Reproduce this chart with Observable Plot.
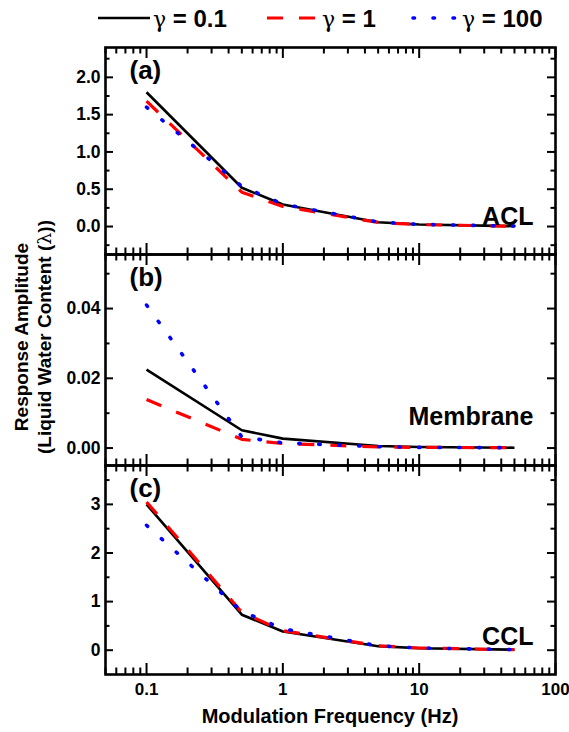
<!DOCTYPE html>
<html><head><meta charset="utf-8">
<script src="https://cdn.jsdelivr.net/npm/d3@7"></script>
<script src="https://cdn.jsdelivr.net/npm/@observablehq/plot@0.6"></script>
<style>
body{margin:0;background:#fff;font-family:"Liberation Sans",Arial,sans-serif;font-weight:bold;color:#000;}
#wrap{position:relative;width:569px;height:732px;overflow:hidden;}
#wrap svg.plot-panel{position:absolute;left:0;}
.leg{position:absolute;font-size:24px;line-height:24px;white-space:nowrap;}
.gr{font-family:"DejaVu Serif","Liberation Serif",serif;font-weight:normal;font-size:22px;}
.sw{position:absolute;}
#ytitle{position:absolute;width:340px;height:44px;left:-137px;top:315px;transform:rotate(-90deg);transform-origin:50% 50%;text-align:center;font-size:19px;line-height:22px;}
#xtitle{position:absolute;left:105px;width:450px;top:704px;text-align:center;font-size:20px;line-height:24px;}
</style></head><body><div id="wrap"></div>
<script>
// ---- data ----
const freq = [0.1, 0.5, 1, 5, 10, 50];
const gammaValues = ["0.1", "1", "100"];
const acl_g01  = [1.80, 0.52, 0.295, 0.058, 0.027, 0.005];
const acl_g1   = [1.68, 0.46, 0.27, 0.055, 0.025, 0.005];
const acl_g100 = [1.60, 0.54, 0.30, 0.060, 0.028, 0.006];
const mem_g01  = [0.0225, 0.0051, 0.0027, 0.0006, 0.0003, 0.0001];
const mem_g1   = [0.0139, 0.0025, 0.0013, 0.0003, 0.0002, 0.0001];
const mem_g100 = [0.0410, 0.0032, 0.0015, 0.0004, 0.0002, 0.0001];
const ccl_g01  = [3.00, 0.73, 0.385, 0.083, 0.040, 0.010];
const ccl_g1   = [3.05, 0.78, 0.40, 0.090, 0.045, 0.010];
const ccl_g100 = [2.57, 0.80, 0.44, 0.090, 0.045, 0.012];
// ticks
const xMajor = [0.1, 1, 10, 100];
const xMinor = [0.05,0.06,0.07,0.08,0.09, 0.2,0.3,0.4,0.5,0.6,0.7,0.8,0.9, 2,3,4,5,6,7,8,9, 20,30,40,50,60,70,80,90];
const aMajor = [0, 0.5, 1.0, 1.5, 2.0];
const aMinor = [-0.25, 0.25, 0.75, 1.25, 1.75, 2.25];
const bMajor = [0, 0.02, 0.04];
const bMinor = [0.01, 0.03, 0.05];
const cMajor = [0, 1, 2, 3];
const cMinor = [0.5, 1.5, 2.5, 3.5];
const panelNames = ["ACL", "Membrane", "CCL"];
const panelLetters = ["(a)", "(b)", "(c)"];

// ---- styles ----
const styles = [
  {stroke: "#000000", strokeWidth: 2.6, strokeDasharray: null, strokeLinecap: "butt"},
  {stroke: "#ff0000", strokeWidth: 3.2, strokeDasharray: "16,16", strokeLinecap: "butt"},
  {stroke: "#0000ff", strokeWidth: 3.6, strokeDasharray: "1.5,18.5", strokeLinecap: "round"}
];

const W = 569, mL = 105, mR = 14, innerW = W - mL - mR;
const wrap = document.getElementById("wrap");

function panel({top, innerH, mB, domain, major, minor, fmt, series, letter, name, nameDy, showX}) {
  const mT = 2;
  const H = mT + innerH + mB;
  const rows = [];
  series.forEach((vals, si) => vals.forEach((v, i) => rows.push({f: freq[i], v, s: si})));
  const majLen = 8, minLen = 4.5;
  const marks = [
    Plot.tickY(major, {y: d => d, insetRight: innerW - majLen, strokeWidth: 2}),
    Plot.tickY(major, {y: d => d, insetLeft: innerW - majLen, strokeWidth: 2}),
    Plot.tickY(minor, {y: d => d, insetRight: innerW - minLen, strokeWidth: 2}),
    Plot.tickY(minor, {y: d => d, insetLeft: innerW - minLen, strokeWidth: 2}),
    Plot.tickX(xMajor, {x: d => d, insetTop: innerH - majLen - 3, strokeWidth: 2}),
    Plot.tickX(xMajor, {x: d => d, insetBottom: innerH - majLen - 3, strokeWidth: 2}),
    Plot.tickX(xMinor, {x: d => d, insetTop: innerH - minLen - 2, strokeWidth: 2}),
    Plot.tickX(xMinor, {x: d => d, insetBottom: innerH - minLen - 2, strokeWidth: 2}),
    ...styles.map((st, si) => Plot.line(rows.filter(r => r.s === si), {x: "f", y: "v", ...st})),
    Plot.frame({strokeWidth: 2.6}),
    Plot.axisY(major, {anchor: "left", tickSize: 0, tickPadding: 5, tickFormat: fmt, fontSize: 17.5, fontWeight: "bold", label: null}),
    Plot.text([letter], {frameAnchor: "top-left", dx: 24, dy: 13, fontSize: 26, fontWeight: "bold", textAnchor: "start", lineAnchor: "top"}),
    Plot.text([name], {frameAnchor: "bottom-right", dx: -22, dy: nameDy, fontSize: 25, fontWeight: "bold", textAnchor: "end", lineAnchor: "bottom"})
  ];
  if (showX) marks.push(Plot.axisX(xMajor, {anchor: "bottom", tickSize: 0, tickPadding: 8, tickFormat: d => String(d), fontSize: 17, fontWeight: "bold", label: null}));
  const svg = Plot.plot({
    width: W, height: H, marginLeft: mL, marginRight: mR, marginTop: mT, marginBottom: mB,
    x: {type: "log", domain: [0.05, 100], label: null, axis: showX ? undefined : null},
    y: {domain, label: null},
    style: {background: "transparent", fontFamily: "Liberation Sans, Arial, sans-serif", fontWeight: "bold", fontSize: "16px", overflow: "visible"},
    marks
  });
  svg.classList.add("plot-panel");
  svg.style.top = (top - mT) + "px";
  wrap.appendChild(svg);
}

panel({top: 47, innerH: 207, mB: 2, domain: [-0.375, 2.4], major: aMajor, minor: aMinor, fmt: d3.format(".1f"),
  series: [acl_g01, acl_g1, acl_g100], letter: panelLetters[0], name: panelNames[0], nameDy: -30, showX: false});
panel({top: 254, innerH: 211, mB: 2, domain: [-0.005, 0.0555], major: bMajor, minor: bMinor, fmt: d3.format(".2f"),
  series: [mem_g01, mem_g1, mem_g100], letter: panelLetters[1], name: panelNames[1], nameDy: -41, showX: false});
panel({top: 465, innerH: 209, mB: 58, domain: [-0.5, 3.8], major: cMajor, minor: cMinor, fmt: d3.format("d"),
  series: [ccl_g01, ccl_g1, ccl_g100], letter: panelLetters[2], name: panelNames[2], nameDy: -30, showX: true});

// ---- legend ----
const legX = [{sw: 98, w: 52, tx: 153}, {sw: 267, w: 50, tx: 322}, {sw: 413, w: 44, tx: 462}];
gammaValues.forEach((g, i) => {
  const st = styles[i], p = legX[i];
  const ns = "http://www.w3.org/2000/svg";
  const s = document.createElementNS(ns, "svg");
  s.setAttribute("class", "sw"); s.setAttribute("width", p.w + 4); s.setAttribute("height", 8);
  s.style.left = (p.sw - 2) + "px"; s.style.top = "14px";
  const ln = document.createElementNS(ns, "line");
  ln.setAttribute("x1", 2); ln.setAttribute("x2", p.w + 2); ln.setAttribute("y1", 4); ln.setAttribute("y2", 4);
  ln.setAttribute("stroke", st.stroke); ln.setAttribute("stroke-width", st.strokeWidth);
  if (st.strokeDasharray) ln.setAttribute("stroke-dasharray", st.strokeDasharray);
  ln.setAttribute("stroke-linecap", st.strokeLinecap);
  s.appendChild(ln); wrap.appendChild(s);
  const t = document.createElement("div");
  t.className = "leg"; t.style.left = p.tx + "px"; t.style.top = "7px";
  t.innerHTML = '<span class="gr">γ</span> = ' + g;
  wrap.appendChild(t);
});

// ---- axis titles ----
const yt = document.createElement("div"); yt.id = "ytitle";
yt.innerHTML = 'Response Amplitude<br>(Liquid Water Content (<span style="font-family:\'DejaVu Serif\',serif;font-weight:normal">λ</span>))';
wrap.appendChild(yt);
const xt = document.createElement("div"); xt.id = "xtitle"; xt.textContent = "Modulation Frequency (Hz)";
wrap.appendChild(xt);
</script></body></html>
